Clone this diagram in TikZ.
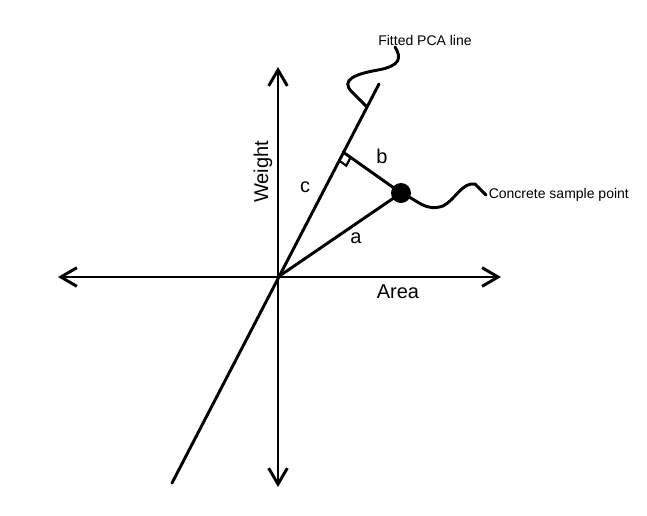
\documentclass[tikz,border=0pt]{standalone}
\usepackage{fontspec}
\setmainfont{Liberation Sans}
\usetikzlibrary{arrows.meta,calc}

\begin{document}
\begin{tikzpicture}[x=0.75pt,y=-0.75pt,line width=2.2pt,line cap=round]

\definecolor{ink}{RGB}{0,0,0}

\tikzset{
  axis/.style={ink, {Straight Barb[length=12pt,width=14pt,line width=2.2pt]}-{Straight Barb[length=12pt,width=14pt,line width=2.2pt]}},
  letter/.style={font=\fontsize{15}{17}\selectfont, inner sep=0pt},
  note/.style={font=\fontsize{10.5}{12}\selectfont, inner sep=1pt},
  squiggle/.style={ink, line width=2.2pt},
}

\useasboundingbox (0,0) rectangle (647,515);

% ---------------- axes ----------------
\coordinate (O) at (278,277);
\coordinate (xl) at (58,277);
\coordinate (xr) at (501,277);
\coordinate (yt) at (278,67);
\coordinate (yb) at (278,487);
\draw[axis] (xl) -- (xr);
\draw[axis] (yb) -- (yt);
\node[letter] (area) at (398,292) {Area};
\node[letter, rotate=90] (weight) at (263,172) {Weight};

% ---------------- fitted line and sample ----------------
\coordinate (pcalo) at (172,483);
\coordinate (pcahi) at (379,84);
\draw[ink] (pcalo) -- (pcahi);

\coordinate (F) at (343,152);   % foot of the perpendicular
\node[circle, fill=ink, inner sep=0pt, minimum size=15pt] (P) at (401,193) {};
\draw[ink] (O) -- (P.center);
\draw[ink] (P.center) -- (F);

% right angle mark
\draw[ink, line width=1.6pt, line cap=butt]
  ($(F)!7pt!(P)$) -- ($(F)!7pt!(P) - (F) + (F)!7pt!(O)$) -- ($(F)!7pt!(O)$);

\node[letter] (la) at (356,238) {a};
\node[letter] (lb) at (382,156) {b};
\node[letter] (lc) at (305,187) {c};

% ---------------- notes ----------------
\node[note] (pcanote) at (425,40) {Fitted PCA line};
\node[note, anchor=west] (ptnote) at (486,195) {Concrete sample point};

\coordinate (pcatail) at (395,47);
\coordinate (pcahook) at (366,106);
\draw[squiggle] (pcatail) .. controls (402,58) and (400,66) .. (378,70)
  .. controls (355,74) and (340,80) .. (352,92) -- (pcahook);
\draw[squiggle] (P.center) .. controls (418,200) and (425,212) .. (443,206)
  .. controls (455,200) and (462,182) .. (475,184) -- (ptnote.west);

\end{tikzpicture}
\end{document}
